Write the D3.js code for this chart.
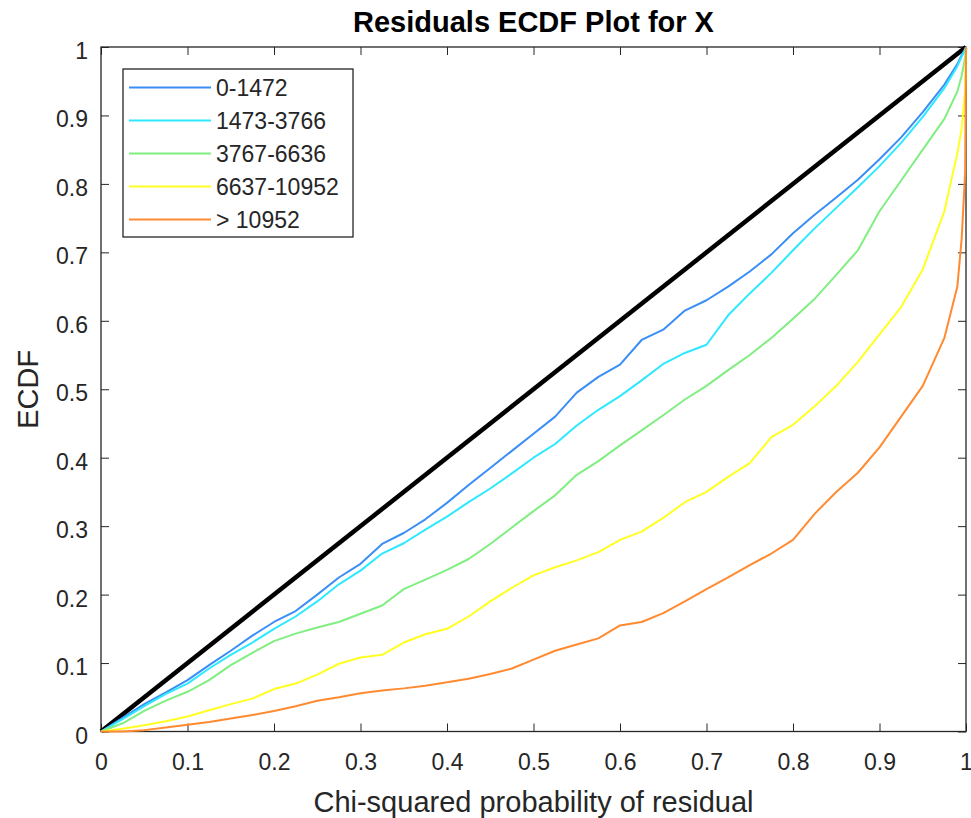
<!DOCTYPE html>
<html lang="en">
<head>
    <meta charset="utf-8">
    <title>Residuals ECDF Plot for X</title>
    <script src="https://cdn.jsdelivr.net/npm/d3@7/dist/d3.min.js"></script>
    <style>
        body { margin: 0; background: #fff; }
        text { font-family: "Liberation Sans", Arial, Helvetica, sans-serif; fill: #262626; }
    </style>
</head>
<body>
<script>
    // chi-squared probability grid the curves were read at
    var probs = [0, 0.025, 0.05, 0.075, 0.1, 0.125, 0.15, 0.175, 0.2, 0.225,
        0.25, 0.275, 0.3, 0.325, 0.35, 0.375, 0.4, 0.425, 0.45, 0.475,
        0.5, 0.525, 0.55, 0.575, 0.6, 0.625, 0.65, 0.675, 0.7, 0.725,
        0.75, 0.775, 0.8, 0.825, 0.85, 0.875, 0.9, 0.925, 0.95, 0.975,
        0.99, 0.995, 0.999, 1];

    // legend names of the groups
    var groups = ["0-1472", "1473-3766", "3767-6636", "6637-10952", "> 10952"];

    // ECDF of each group, one value per entry of probs
    var ecdf1 = [0, 0.02, 0.04, 0.057, 0.075, 0.097, 0.118, 0.14, 0.16, 0.176,
        0.2, 0.225, 0.245, 0.274, 0.29, 0.31, 0.334, 0.36, 0.385, 0.41,
        0.435, 0.46, 0.495, 0.518, 0.536, 0.572, 0.587, 0.615, 0.63, 0.65,
        0.672, 0.697, 0.728, 0.755, 0.78, 0.806, 0.836, 0.868, 0.905, 0.945,
        0.975, 0.988, 0.997, 1];
    var ecdf2 = [0, 0.018, 0.037, 0.055, 0.07, 0.092, 0.112, 0.13, 0.15, 0.168,
        0.19, 0.215, 0.235, 0.26, 0.275, 0.295, 0.314, 0.335, 0.355, 0.377,
        0.4, 0.42, 0.447, 0.47, 0.49, 0.513, 0.537, 0.553, 0.565, 0.608,
        0.64, 0.67, 0.703, 0.735, 0.765, 0.795, 0.826, 0.86, 0.898, 0.94,
        0.972, 0.986, 0.996, 1];
    var ecdf3 = [0, 0.012, 0.03, 0.045, 0.058, 0.075, 0.097, 0.115, 0.132, 0.143,
        0.152, 0.16, 0.172, 0.184, 0.208, 0.222, 0.236, 0.252, 0.274, 0.298,
        0.322, 0.345, 0.375, 0.395, 0.418, 0.44, 0.462, 0.485, 0.505, 0.528,
        0.55, 0.575, 0.603, 0.632, 0.667, 0.703, 0.76, 0.805, 0.85, 0.895,
        0.935, 0.958, 0.985, 1];
    var ecdf4 = [0, 0.004, 0.009, 0.015, 0.022, 0.031, 0.04, 0.048, 0.062, 0.07,
        0.083, 0.099, 0.108, 0.112, 0.13, 0.142, 0.15, 0.168, 0.19, 0.21,
        0.228, 0.24, 0.25, 0.262, 0.28, 0.292, 0.312, 0.335, 0.35, 0.372,
        0.392, 0.43, 0.448, 0.475, 0.505, 0.54, 0.58, 0.62, 0.675, 0.76,
        0.845, 0.88, 0.937, 1];
    var ecdf5 = [0, 0, 0.002, 0.006, 0.01, 0.014, 0.019, 0.024, 0.03, 0.037,
        0.045, 0.05, 0.056, 0.06, 0.063, 0.067, 0.072, 0.077, 0.084, 0.092,
        0.105, 0.118, 0.127, 0.136, 0.155, 0.16, 0.173, 0.19, 0.208, 0.225,
        0.243, 0.26, 0.28, 0.318, 0.35, 0.378, 0.415, 0.46, 0.505, 0.575,
        0.65, 0.72, 0.816, 1];

    // reference line y = x
    var diagonal = [0, 1];

    // tick values of both axes
    var ticks = [0, 0.1, 0.2, 0.3, 0.4, 0.5, 0.6, 0.7, 0.8, 0.9, 1];

    var series = [ecdf1, ecdf2, ecdf3, ecdf4, ecdf5];
    var colors = ["#3a8ef6", "#2ee8ff", "#80ee80", "#ffff22", "#ff8a30"];

    // canvas
    var width = 971;
    var height = 818;
    var svg = d3.select("body")
            .append("svg")
            .attr("width", width)
            .attr("height", height);

    // plot box (window.top is taken, hence the prefix)
    var boxLeft = 101, boxRight = 966, boxTop = 47, boxBottom = 731.5;

    var x = d3.scaleLinear().domain([0, 1]).range([boxLeft, boxRight]);
    var y = d3.scaleLinear().domain([0, 1]).range([boxBottom, boxTop]);

    var axisColor = "#262626";
    var fmt = d3.format("~g");

    // axes, ticks pointing inwards like MATLAB
    var gx = svg.append("g")
            .attr("transform", "translate(0," + boxBottom + ")")
            .call(d3.axisBottom(x).tickValues(ticks).tickFormat(fmt)
                    .tickSize(-8).tickSizeOuter(0).tickPadding(22));
    var gy = svg.append("g")
            .attr("transform", "translate(" + boxLeft + ",0)")
            .call(d3.axisLeft(y).tickValues(ticks).tickFormat(fmt)
                    .tickSize(-8).tickSizeOuter(0).tickPadding(13));
    var gt = svg.append("g")
            .attr("transform", "translate(0," + boxTop + ")")
            .call(d3.axisTop(x).tickValues(ticks).tickFormat("")
                    .tickSize(-8).tickSizeOuter(0));
    var gr = svg.append("g")
            .attr("transform", "translate(" + boxRight + ",0)")
            .call(d3.axisRight(y).tickValues(ticks).tickFormat("")
                    .tickSize(-8).tickSizeOuter(0));

    [gx, gy, gt, gr].forEach(function (g) {
        g.select(".domain").remove();
        g.selectAll("line").attr("stroke", axisColor);
        g.selectAll("text")
                .style("font-size", "23px")
                .attr("fill", axisColor);
    });
    gy.selectAll("text").attr("dy", "0.5em");

    // box round the axes
    svg.append("rect")
            .attr("x", boxLeft)
            .attr("y", boxTop)
            .attr("width", boxRight - boxLeft)
            .attr("height", boxBottom - boxTop)
            .attr("fill", "none")
            .attr("stroke", axisColor)
            .attr("stroke-width", 1.3);

    // black y = x line
    svg.append("line")
            .attr("x1", x(diagonal[0]))
            .attr("y1", y(diagonal[0]))
            .attr("x2", x(diagonal[1]))
            .attr("y2", y(diagonal[1]))
            .attr("stroke", "#000")
            .attr("stroke-width", 4.5);

    // ECDF curves
    var line = d3.line()
            .x(function (d, i) { return x(probs[i]); })
            .y(function (d) { return y(d); });

    svg.append("g")
            .selectAll("path")
            .data(series)
            .enter()
            .append("path")
            .attr("d", line)
            .attr("fill", "none")
            .attr("stroke", function (d, i) { return colors[i]; })
            .attr("stroke-width", 2)
            .attr("stroke-linejoin", "round");

    // legend
    var lg = svg.append("g");
    lg.append("rect")
            .attr("x", 123)
            .attr("y", 69)
            .attr("width", 230)
            .attr("height", 168)
            .attr("fill", "#fff")
            .attr("stroke", axisColor)
            .attr("stroke-width", 1.3);
    var rows = lg.selectAll("g.row")
            .data(groups)
            .enter()
            .append("g")
            .attr("class", "row")
            .attr("transform", function (d, i) {
                return "translate(0," + (87.5 + i * 33) + ")";
            });
    rows.append("line")
            .attr("x1", 129)
            .attr("x2", 211)
            .attr("stroke", function (d, i) { return colors[i]; })
            .attr("stroke-width", 2);
    rows.append("text")
            .attr("x", 216)
            .attr("dy", "0.36em")
            .style("font-size", "23px")
            .text(function (d) { return d; });

    // title and axis labels
    svg.append("text")
            .attr("x", (boxLeft + boxRight) / 2)
            .attr("y", 32)
            .attr("text-anchor", "middle")
            .style("font-size", "29px")
            .style("font-weight", "bold")
            .style("fill", "#000")
            .text("Residuals ECDF Plot for X");

    svg.append("text")
            .attr("x", (boxLeft + boxRight) / 2)
            .attr("y", 812)
            .attr("text-anchor", "middle")
            .style("font-size", "29px")
            .text("Chi-squared probability of residual");

    svg.append("text")
            .attr("transform", "translate(38," + (boxTop + boxBottom) / 2 + ") rotate(-90)")
            .attr("text-anchor", "middle")
            .style("font-size", "29px")
            .text("ECDF");
</script>
</body>
</html>
